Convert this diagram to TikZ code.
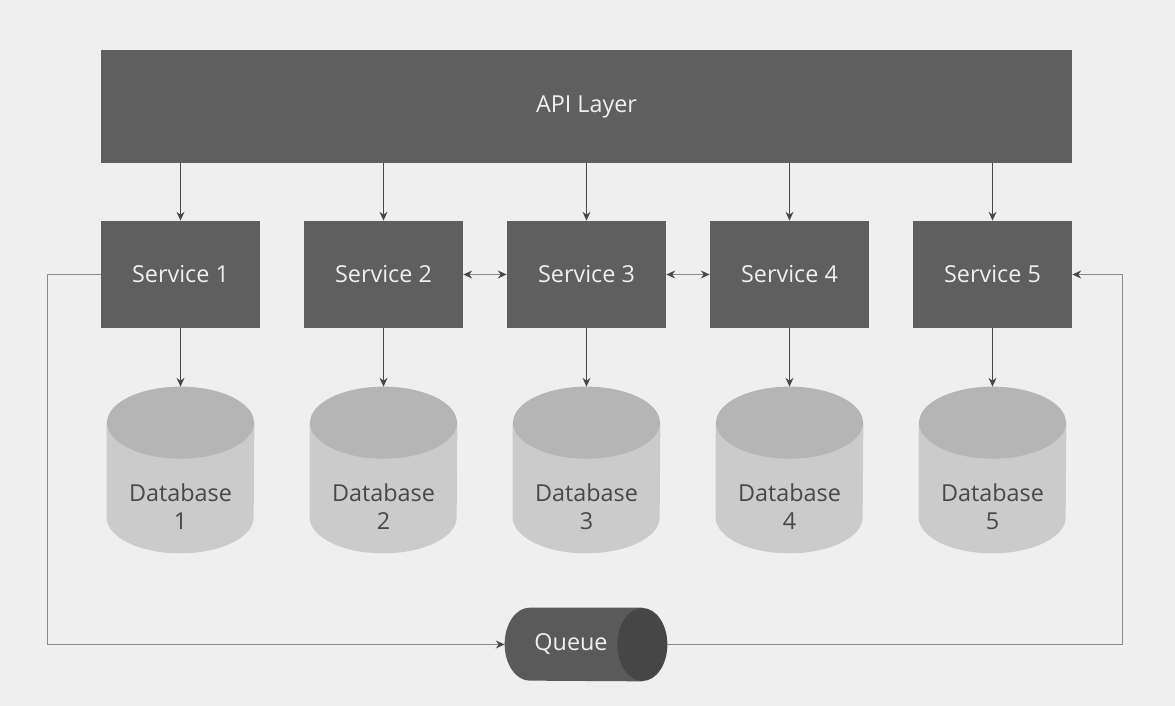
\documentclass[tikz,border=0pt]{standalone}
\usepackage{fontspec}
\setmainfont{Open Sans}
\usetikzlibrary{arrows.meta}
\definecolor{bg}{HTML}{EFEFEF}
\definecolor{boxgray}{HTML}{5F5F5F}
\definecolor{dbtop}{HTML}{B5B5B5}
\definecolor{dbbody}{HTML}{CBCBCB}
\definecolor{qbody}{HTML}{5A5A5A}
\definecolor{qface}{HTML}{464646}
\definecolor{linegray}{HTML}{8A8A8A}
\definecolor{arrowgray}{HTML}{484848}

\begin{document}
\begin{tikzpicture}[>={Stealth[length=5pt,width=4.5pt,color=arrowgray]},font=\fontsize{13.3}{16}\selectfont]
  \tikzstyle{box}=[rectangle,fill=boxgray,text=bg,inner sep=0pt]
  \tikzstyle{db}=[rectangle,minimum width=2.94cm,minimum height=3.32cm,inner sep=0pt]
  \tikzstyle{dbtext}=[align=center,text=arrowgray]
  \tikzstyle{down}=[->,arrowgray,line width=0.6pt]
  \tikzstyle{loop}=[->,linegray,line width=0.8pt]

  \fill[bg] (0,0) rectangle (23.5,14.12);
  \useasboundingbox (0,0) rectangle (23.5,14.12);

  \node[box,minimum width=19.42cm,minimum height=2.26cm] (API) at (11.73,11.99) {API Layer};

  \foreach \i in {1,...,5}
    \node[box,minimum width=3.18cm,minimum height=2.14cm] (S-\i) at ({3.61+4.06*(\i-1)},8.63) {Service \i};

  % databases: cylinders drawn over plain nodes
  \foreach \i in {1,...,5}
  { \node[db] (D-\i) at ({3.61+4.06*(\i-1)},4.72) {};
    \fill[dbbody] ([yshift=-0.72cm]D-\i.north west) -- ([yshift=0.72cm]D-\i.south west)
      arc[start angle=180,end angle=360,x radius=1.47cm,y radius=0.72cm]
      -- ([yshift=-0.72cm]D-\i.north east) -- cycle;
    \fill[dbtop] ([yshift=-0.72cm]D-\i.north) ellipse[x radius=1.47cm,y radius=0.72cm];
    \node[dbtext] (T-\i) at ([yshift=-0.74cm]D-\i.center) {Database\\\i}; }

  % queue
  \node[rectangle,minimum width=3.24cm,minimum height=1.46cm,inner sep=0pt] (Q) at (11.72,1.23) {};
  \fill[qbody] ([xshift=0.5cm]Q.north west) arc[start angle=90,end angle=270,x radius=0.5cm,y radius=0.73cm]
    -- ([xshift=-0.5cm]Q.south east) -- ([xshift=-0.5cm]Q.north east) -- cycle;
  \fill[qface] ([xshift=-0.5cm]Q.east) ellipse[x radius=0.5cm,y radius=0.73cm];
  \node[text=bg] (QL) at ([xshift=-0.3cm]Q.center) {Queue};

  \foreach \i in {1,...,5}
    { \draw[down] (S-\i.north |- API.south) -- (S-\i.north);
      \draw[down] (S-\i.south) -- (D-\i.north); }

  \foreach \from/\to in {2/3,3/4}
    { \draw[<->,linegray,line width=0.8pt] (S-\from) -- (S-\to); }

  \coordinate (loopL) at ([xshift=-1.06cm]S-1.west);
  \coordinate (loopR) at ([xshift=1cm]S-5.east);
  \draw[loop] (S-1.west) -- (loopL) |- (Q.west);
  \draw[loop] (Q.east) -| (loopR) -- (S-5.east);
\end{tikzpicture}
\end{document}
